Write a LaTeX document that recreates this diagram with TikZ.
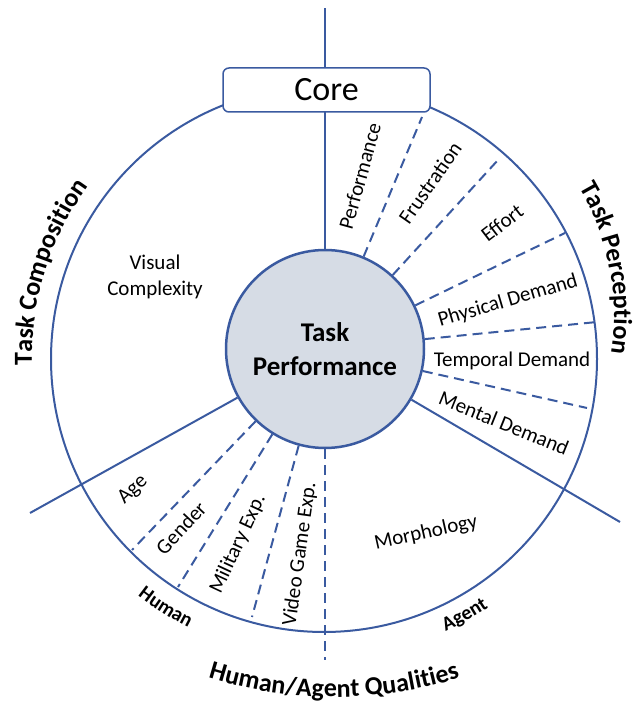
\documentclass[tikz,border=0pt]{standalone}
\usepackage{fontspec}
\setmainfont{Carlito}
\usetikzlibrary{decorations.text}
\definecolor{lineblue}{RGB}{58,90,160}
\definecolor{corefill}{RGB}{214,220,229}
\begin{document}
\begin{tikzpicture}[x=1pt,y=1pt,
  solidline/.style={draw=lineblue, line width=2pt},
  dashline/.style={draw=lineblue, line width=2pt, dash pattern=on 10pt off 6pt},
  lbl/.style={font=\fontsize{21}{26}\selectfont, inner sep=0pt},
  curved/.style={decorate, decoration={text along path, text align=center, text={#1}}}
  ]
\useasboundingbox (0,0) rectangle (634,704);
\coordinate (C) at (324,345);
\coordinate (PC) at (367,390);
\coordinate (QC) at (334,427);
% outer circle
\draw[solidline] (C) circle[radius=273pt];
% inner node
\node[circle, draw=lineblue, line width=2.5pt, fill=corefill, minimum size=198pt, inner sep=0pt,
      align=center, font=\bfseries\fontsize{27}{34}\selectfont] (tp) at (325,355) {Task\\Performance};
% end points
\coordinate (topend) at (325,696);
\coordinate (leftend) at (30,191);
\coordinate (rightend) at (620,182);
\coordinate (d1) at (422,587);
\coordinate (d2) at (498,544);
\coordinate (d3) at (565,471);
\coordinate (d4) at (597,382);
\coordinate (d5) at (587,296);
\coordinate (dA) at (132,154);
\coordinate (dB) at (178,117);
\coordinate (dC) at (252,87);
\coordinate (dD) at (325,44);
% solid rays
\draw[solidline] (tp) -- (topend);
\draw[solidline] (tp) -- (leftend);
\draw[solidline] (tp) -- (rightend);
% dashed rays
\foreach \e in {d1,d2,d3,d4,d5,dA,dB,dC,dD}
  \draw[dashline] (tp) -- (\e);
% core box
\node[draw=lineblue, line width=1.5pt, fill=white, rounded corners=6pt, minimum width=207pt,
      minimum height=44pt, inner sep=0pt, font=\fontsize{34}{40}\selectfont] (core) at (326.5,614) {Core};
% labels
\node[lbl, rotate=74.5] (perf) at (360,528) {Performance};
\node[lbl, rotate=55] (frus) at (430,521) {Frustration};
\node[lbl, rotate=37.5] (eff) at (502,481) {Effort};
\node[lbl, rotate=16.4] (phys) at (508,403) {Physical Demand};
\node[lbl] (temp) at (512,343) {Temporal Demand};
\node[lbl, rotate=-22] (ment) at (504,281) {Mental Demand};
\node[lbl, align=center] (vis) at (155,427) {Visual\\Complexity};
\node[lbl, rotate=43] (age) at (133,214) {Age};
\node[lbl, rotate=47] (gen) at (181,176) {Gender};
\node[lbl, rotate=65] (mil) at (238,160) {Military Exp.};
\node[lbl, rotate=82] (vid) at (300,150) {Video Game Exp.};
\node[lbl, rotate=12.6] (mor) at (426,171) {Morphology};
% curved titles
\path[curved={|\bfseries\fontsize{26}{30}\selectfont|Task Composition}]
  ([shift={(202.5:292)}]C) arc[start angle=202.5, end angle=122.5, radius=292pt];
\path[curved={|\bfseries\fontsize{26}{30}\selectfont|Task Perception}]
  ([shift={(55.85:247)}]PC) arc[start angle=55.85, end angle=-34.15, radius=247pt];
\path[curved={|\bfseries\fontsize{26}{30}\selectfont|Human/Agent Qualities}]
  ([shift={(-130:420)}]QC) arc[start angle=-130, end angle=-50, radius=420pt];
\path[curved={|\bfseries\fontsize{20}{24}\selectfont|Human}]
  ([shift={(-142.5:301)}]C) arc[start angle=-142.5, end angle=-102.5, radius=301pt];
\path[curved={|\bfseries\fontsize{20}{24}\selectfont|Agent}]
  ([shift={(-81.2:298)}]C) arc[start angle=-81.2, end angle=-41.2, radius=298pt];
\end{tikzpicture}
\end{document}
